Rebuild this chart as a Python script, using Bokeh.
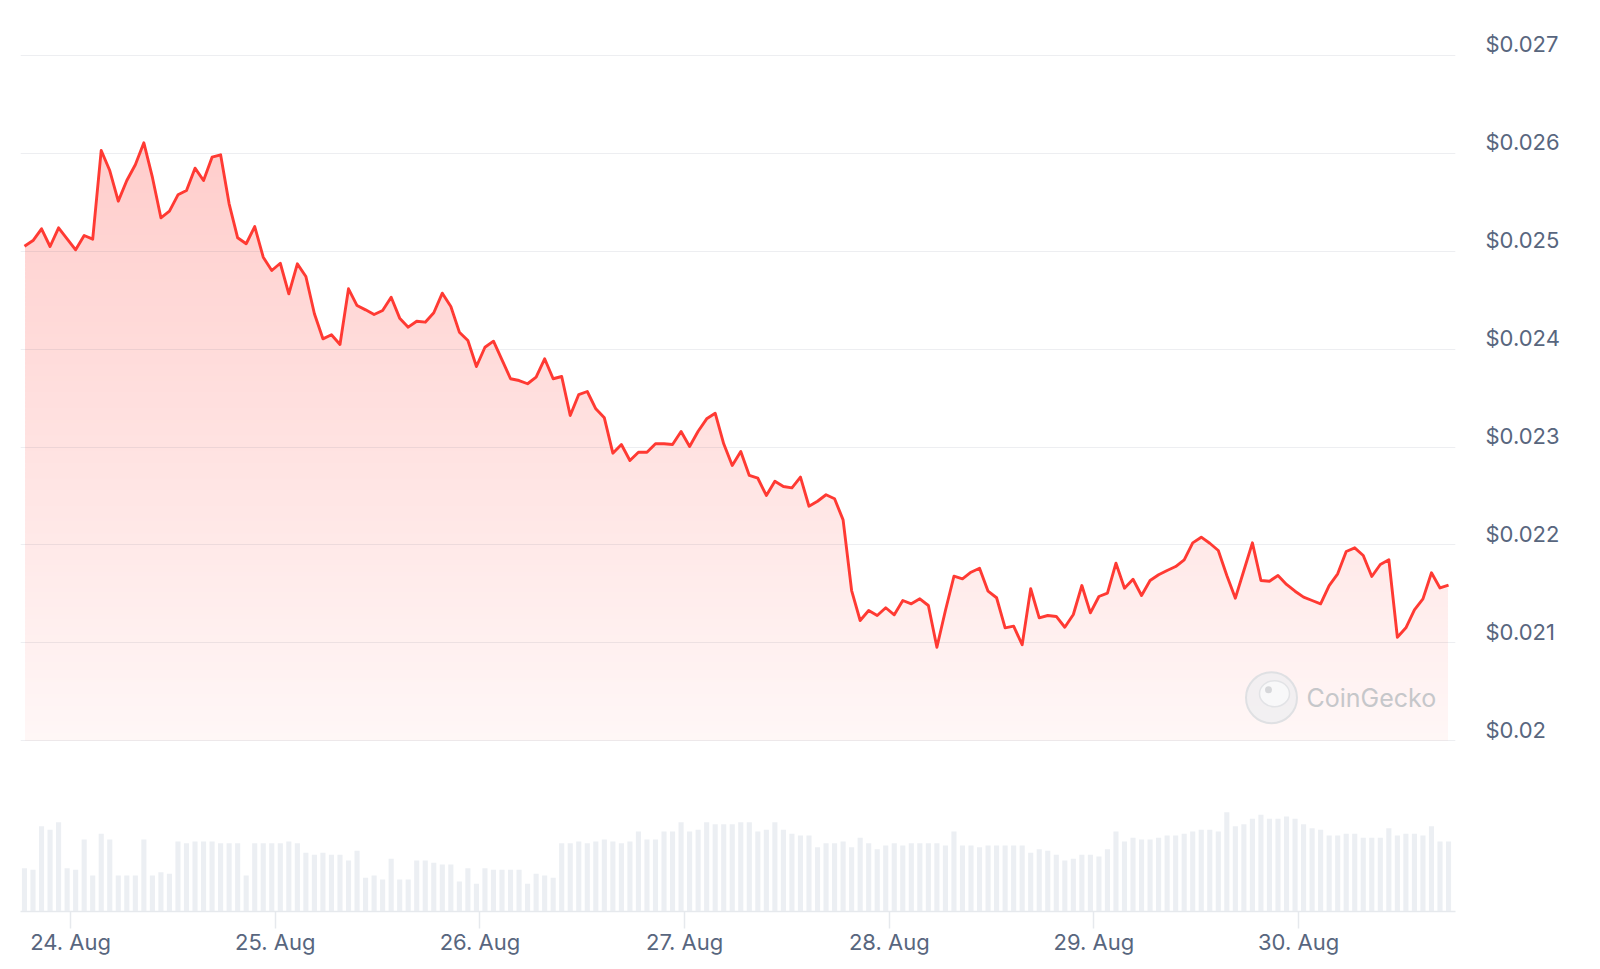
import numpy as np
import pandas as pd
from bokeh.plotting import figure
from bokeh.models import Range1d, FixedTicker, DatetimeTickFormatter, Label, LinearAxis
from bokeh.embed import file_html
from bokeh.resources import INLINE

# ---------------- data ----------------
start_time = "2023-08-23 18:35"   # first hourly sample

price = [
    0.025051, 0.025109, 0.025229, 0.025048, 0.025239, 0.025127, 0.025014, 0.025160, 0.025123, 0.026029,
    0.025824, 0.025511, 0.025722, 0.025883, 0.026107, 0.025756, 0.025341, 0.025409, 0.025576, 0.025620,
    0.025848, 0.025722, 0.025960, 0.025985, 0.025484, 0.025137, 0.025076, 0.025252, 0.024939, 0.024803,
    0.024877, 0.024565, 0.024871, 0.024742, 0.024361, 0.024105, 0.024146, 0.024047, 0.024616, 0.024445,
    0.024401, 0.024353, 0.024394, 0.024530, 0.024316, 0.024224, 0.024285, 0.024275, 0.024371, 0.024571,
    0.024435, 0.024173, 0.024088, 0.023822, 0.024019, 0.024081, 0.023891, 0.023697, 0.023679, 0.023646,
    0.023713, 0.023901, 0.023697, 0.023720, 0.023322, 0.023536, 0.023567, 0.023390, 0.023298, 0.022937,
    0.023026, 0.022862, 0.022947, 0.022947, 0.023033, 0.023033, 0.023026, 0.023158, 0.023005, 0.023161,
    0.023288, 0.023345, 0.023033, 0.022811, 0.022954, 0.022709, 0.022681, 0.022505, 0.022651, 0.022597,
    0.022583, 0.022692, 0.022395, 0.022446, 0.022512, 0.022471, 0.022256, 0.021534, 0.021228, 0.021330,
    0.021279, 0.021358, 0.021286, 0.021432, 0.021398, 0.021449, 0.021381, 0.020955, 0.021330, 0.021680,
    0.021654, 0.021721, 0.021762, 0.021527, 0.021460, 0.021153, 0.021170, 0.020980, 0.021552, 0.021255,
    0.021279, 0.021269, 0.021159, 0.021289, 0.021585, 0.021306, 0.021473, 0.021507, 0.021813, 0.021558,
    0.021649, 0.021483, 0.021636, 0.021695, 0.021739, 0.021779, 0.021848, 0.022021, 0.022079, 0.022017,
    0.021943, 0.021687, 0.021456, 0.021739, 0.022021, 0.021636, 0.021629, 0.021687, 0.021596, 0.021527,
    0.021466, 0.021432, 0.021398, 0.021585, 0.021705, 0.021933, 0.021970, 0.021892, 0.021677, 0.021800,
    0.021848, 0.021057, 0.021153, 0.021337, 0.021449, 0.021715, 0.021560, 0.021590,
]

volume = [
    130, 125, 256, 245, 268, 130, 125, 216, 108, 233,
    216, 108, 108, 108, 216, 108, 118, 113, 210, 205,
    210, 210, 210, 205, 205, 205, 108, 205, 205, 205,
    205, 210, 205, 176, 170, 176, 170, 170, 153, 182,
    101, 108, 96, 158, 96, 96, 153, 153, 146, 141,
    141, 90, 130, 83, 130, 125, 125, 125, 125, 83,
    113, 108, 101, 205, 205, 210, 205, 210, 216, 210,
    205, 210, 240, 216, 216, 240, 240, 268, 240, 245,
    268, 262, 262, 262, 268, 268, 240, 245, 268, 245,
    233, 228, 228, 193, 205, 205, 210, 193, 221, 205,
    187, 198, 205, 198, 205, 205, 205, 205, 198, 240,
    198, 198, 193, 198, 198, 198, 198, 198, 176, 187,
    182, 170, 153, 158, 170, 170, 165, 187, 240, 210,
    221, 216, 216, 221, 228, 228, 233, 240, 245, 245,
    240, 298, 256, 262, 278, 290, 278, 278, 285, 278,
    262, 250, 245, 228, 228, 233, 233, 221, 221, 221,
    250, 228, 233, 233, 228, 256, 210, 210,
]

price_ticks = [0.020, 0.021, 0.022, 0.023, 0.024, 0.025, 0.026, 0.027]
price_tick_labels = ["$0.02", "$0.021", "$0.022", "$0.023", "$0.024", "$0.025", "$0.026", "$0.027"]
day_ticks = ["2023-08-24", "2023-08-25", "2023-08-26", "2023-08-27",
             "2023-08-28", "2023-08-29", "2023-08-30"]

# ---------------- styling ----------------
LINE_RED = "#ff3a33"
TEXT = "#58667e"
FONT = "Inter"

times = pd.date_range(start_time, periods=len(price), freq="h")
x_start = pd.Timestamp("2023-08-23 18:07")
x_end = pd.Timestamp("2023-08-30 18:24")
y_lo, y_hi = 0.0182554, 0.0273565

FRAME_W, FRAME_H = 1435, 891
ms_per_px = (x_end - x_start).total_seconds() * 1000 / FRAME_W
price_per_px = (y_hi - y_lo) / FRAME_H

p = figure(width=1596, height=966, x_axis_type="datetime",
           x_range=Range1d(x_start, x_end), y_range=Range1d(y_lo, y_hi),
           y_axis_location=None, output_backend="svg", toolbar_location=None,
           min_border_left=20, min_border_right=141, min_border_top=20, min_border_bottom=55)
p.outline_line_color = None
p.grid.visible = False
p.background_fill_color = "white"
p.border_fill_color = "white"

p.extra_y_ranges = {"vol": Range1d(0, FRAME_H * 3)}

# ---- gradient area under the price line (colour strips, masked above the line) ----
step = 0.00004
levels = np.arange(price_ticks[0], max(price) + 0.0003, step)
mids = levels + step / 2
alpha = np.clip(0.041 + 34.8 * (mids - price_ticks[0]), 0, 1)
base = np.array([255, 58, 51])
cols = []
for a in alpha:
    c = (255 * (1 - a) + base * a).round().astype(int)
    cols.append("#%02x%02x%02x" % tuple(c))
t0_ms = times[0].value / 1e6
t1_ms = times[-1].value / 1e6
p.quad(left=t0_ms + 0.6 * ms_per_px, right=t1_ms - 0.6 * ms_per_px,
       bottom=levels, top=levels + step * 1.7, fill_color=cols, line_color=None)
# white mask above the line
p.varea(x=times, y1=price, y2=y_hi + 0.001, fill_color="white")

# ---- grid lines ----
p.hspan(y=price_ticks, line_color=TEXT, line_alpha=0.11, line_width=1.2)

# ---- volume bars ----
p.vbar(x=times, top=volume, width=0.6 * 3600 * 1000, y_range_name="vol",
       fill_color="#eceff3", line_color=None)

# ---- price line ----
p.line(times, price, line_color=LINE_RED, line_width=2.9, line_join="round")

# ---- watermark ----
x_end_ms = x_end.value / 1e6
wm_x = x_end_ms - 184 * ms_per_px
wm_y = price_ticks[0] + 43 * price_per_px
p.scatter([wm_x], [wm_y], size=51, marker="circle", fill_color="#eeeef0", fill_alpha=0.75,
          line_color="#dfe0e3", line_width=2)
p.ellipse([wm_x + 3 * ms_per_px], [wm_y + 4 * price_per_px], width=30 * ms_per_px,
          height=26 * price_per_px, fill_color="#f8f8f9", line_color="#e2e3e6", line_width=1.5)
p.scatter([wm_x - 3 * ms_per_px], [wm_y + 8 * price_per_px], size=7, marker="circle",
          fill_color="#d6d7da", line_color=None)
p.add_layout(Label(x=x_end_ms, y=price_ticks[0], x_offset=-149, y_offset=43, text="CoinGecko",
                   text_font=FONT, text_font_size="25px", text_color="#c6c7ca",
                   text_baseline="middle", text_align="left"))

# ---- price axis on the right (labels sit just above their grid lines) ----
shift = 11 * price_per_px
label_pos = [round(v + shift, 8) for v in price_ticks]
ya = LinearAxis(ticker=FixedTicker(ticks=label_pos),
                major_label_overrides={pos: lab for pos, lab in zip(label_pos, price_tick_labels)})
ya.axis_line_color = None
ya.major_tick_line_color = None
ya.minor_tick_line_color = None
ya.major_tick_out = 0
ya.major_tick_in = 0
ya.major_label_standoff = 30
ya.major_label_text_font = FONT
ya.major_label_text_font_size = "22px"
ya.major_label_text_color = TEXT
p.add_layout(ya, "right")

# ---- x axis ----
xa = p.xaxis[0]
xa.ticker = FixedTicker(ticks=[pd.Timestamp(d).value / 1e6 for d in day_ticks])
xa.formatter = DatetimeTickFormatter(days="%d. %b", hours="%d. %b", months="%d. %b")
xa.axis_line_color = "#e6e9ed"
xa.axis_line_width = 1.5
xa.major_tick_line_color = "#e6e9ed"
xa.major_tick_line_width = 1.5
xa.major_tick_out = 17
xa.major_tick_in = 0
xa.minor_tick_line_color = None
xa.major_label_standoff = 0
xa.major_label_text_font = FONT
xa.major_label_text_font_size = "22px"
xa.major_label_text_color = TEXT

open("out.html", "w").write(file_html(p, INLINE))
